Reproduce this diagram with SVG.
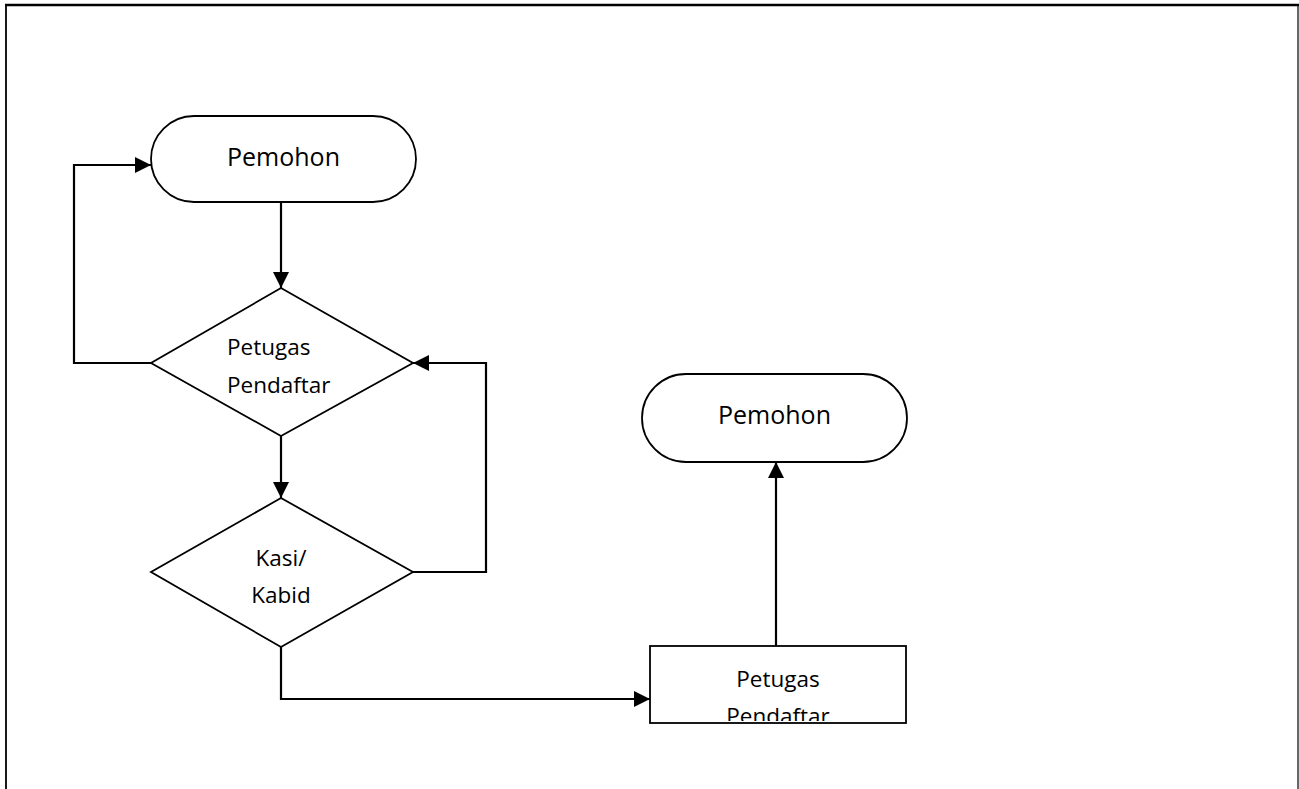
<svg xmlns="http://www.w3.org/2000/svg" width="1299" height="789" viewBox="0 0 1299 789">
<style>
.shape{fill:#fff;stroke:#000;stroke-width:1.8}
.conn{fill:none;stroke:#000;stroke-width:2.2}
.t{font-family:"Open Sans","Noto Sans",sans-serif;fill:#000}
.big{font-size:25px;text-anchor:middle}
.mid{font-size:22.5px}
</style>
<defs>
<marker id="arr" markerUnits="userSpaceOnUse" markerWidth="17" markerHeight="17" refX="16" refY="8" orient="auto">
<path d="M0,0 L16,8 L0,16 z" fill="#000"/>
</marker>
<clipPath id="boxclip"><rect x="651" y="647" width="254" height="74"/></clipPath>
</defs>
<rect width="1299" height="789" fill="#fff"/>
<g id="frame">
<line x1="5" y1="5" x2="1299" y2="5" stroke="#000" stroke-width="2.4"/>
<line x1="6" y1="4" x2="6" y2="789" stroke="#000" stroke-width="1.8"/>
<line x1="1298" y1="4" x2="1298" y2="789" stroke="#000" stroke-width="1.2"/>
</g>
<g id="connectors">
<line class="conn" x1="281" y1="202" x2="281" y2="288" marker-end="url(#arr)"/>
<polyline class="conn" points="151,363 74,363 74,165 151,165" marker-end="url(#arr)"/>
<line class="conn" x1="281" y1="436" x2="281" y2="498" marker-end="url(#arr)"/>
<polyline class="conn" points="413,572 486,572 486,363 413,363" marker-end="url(#arr)"/>
<polyline class="conn" points="281,647 281,699 650,699" marker-end="url(#arr)"/>
<line class="conn" x1="776" y1="646" x2="776" y2="462" marker-end="url(#arr)"/>
</g>
<g id="pemohon1">
<rect class="shape" x="151" y="116" width="265" height="86" rx="43" ry="43"/>
<text class="t big" x="283.5" y="166">Pemohon</text>
</g>
<g id="petugas1">
<polygon class="shape" points="281,288 413,363 281,436 151,363"/>
<text class="t mid" x="227" y="355">Petugas</text>
<text class="t mid" x="227" y="393">Pendaftar</text>
</g>
<g id="kasi">
<polygon class="shape" points="281,498 413,572 281,647 151,572"/>
<text class="t mid" x="281" y="566" text-anchor="middle">Kasi/</text>
<text class="t mid" x="281" y="603" text-anchor="middle">Kabid</text>
</g>
<g id="pemohon2">
<rect class="shape" x="642" y="374" width="265" height="88" rx="44" ry="44"/>
<text class="t big" x="774.5" y="424">Pemohon</text>
</g>
<g id="petugas2">
<rect class="shape" x="650" y="646" width="256" height="77"/>
<g clip-path="url(#boxclip)">
<text class="t mid" x="778" y="687" text-anchor="middle">Petugas</text>
<text class="t mid" x="778" y="724" text-anchor="middle">Pendaftar</text>
</g>
</g>
</svg>
